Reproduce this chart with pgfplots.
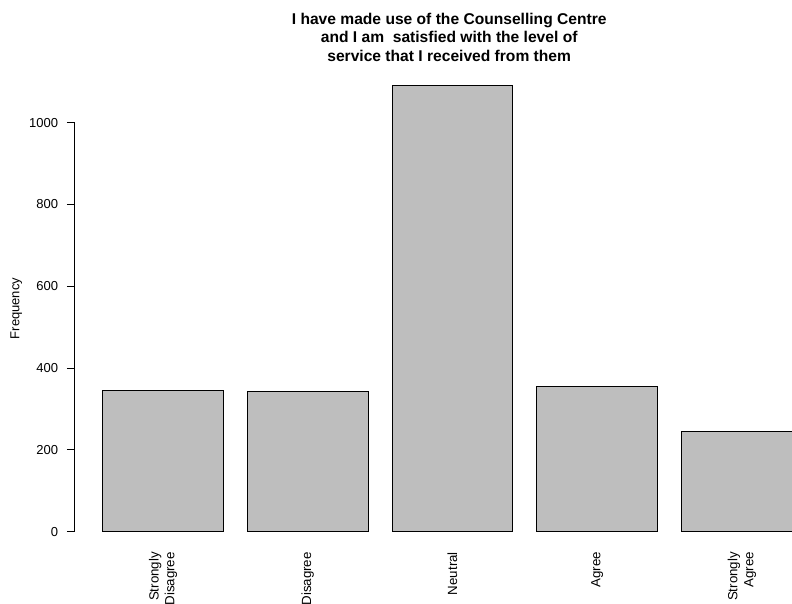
\documentclass[border=0pt]{standalone}
\usepackage{fontspec}
\setmainfont{Liberation Sans}
\usepackage{pgfplots}
\pgfplotsset{compat=1.18}
\definecolor{barfill}{HTML}{BEBEBE}
\begin{document}
\begin{tikzpicture}
\path[use as bounding box] (0bp,0bp) rectangle (792bp,604bp);
\begin{axis}[
  at={(74.7bp,54.5bp)}, anchor=south west,
  scale only axis, width=717.3bp, height=481.9bp,
  xmin=-0.032, xmax=5.915, ymin=-43.6, ymax=1134.6,
  axis x line=bottom, axis y line=left,
  x axis line style={draw=none,-}, y axis line style={draw=none,-},
  xtick={0.7,1.9,3.1,4.3,5.5},
  xticklabels={{Strongly\\Disagree},Disagree,Neutral,Agree,{Strongly\\Agree}},
  major x tick style={draw=none},
  xticklabel shift=-5.3bp,
  xticklabel style={rotate=90, anchor=east, align=right, inner sep=0pt, font=\fontsize{13.3bp}{15.8bp}\selectfont},
  ytick={0,200,400,600,800,1000},
  tick align=outside, major tick length=7.8bp,
  major y tick style={black, line width=0.8bp},
  yticklabel style={inner sep=0pt, xshift=-8.7bp, font=\fontsize{13bp}{15.6bp}\selectfont},
  /pgf/number format/assume math mode=true,
  /pgf/number format/1000 sep={},
  ybar, bar width=1,
  clip mode=individual,
]
\addplot[fill=barfill, draw=black, line width=0.9bp] coordinates {(0.7,345) (1.9,342) (3.1,1091) (4.3,356) (5.5,246)};
\draw[black, line width=0.8bp] (axis cs:-0.032,0) -- (axis cs:-0.032,1000);
\end{axis}
\node[anchor=base, align=center, font=\bfseries\fontsize{15.6bp}{18.6bp}\selectfont, inner sep=0pt] at (449.2bp,542.7bp) {I have made use of the Counselling Centre\\and I am\ \ satisfied with the level of\\service that I received from them};
\node[rotate=90, anchor=north, inner sep=0pt, font=\fontsize{13bp}{15.6bp}\selectfont] at (10.3bp,295.5bp) {Frequency};
\end{tikzpicture}
\end{document}
